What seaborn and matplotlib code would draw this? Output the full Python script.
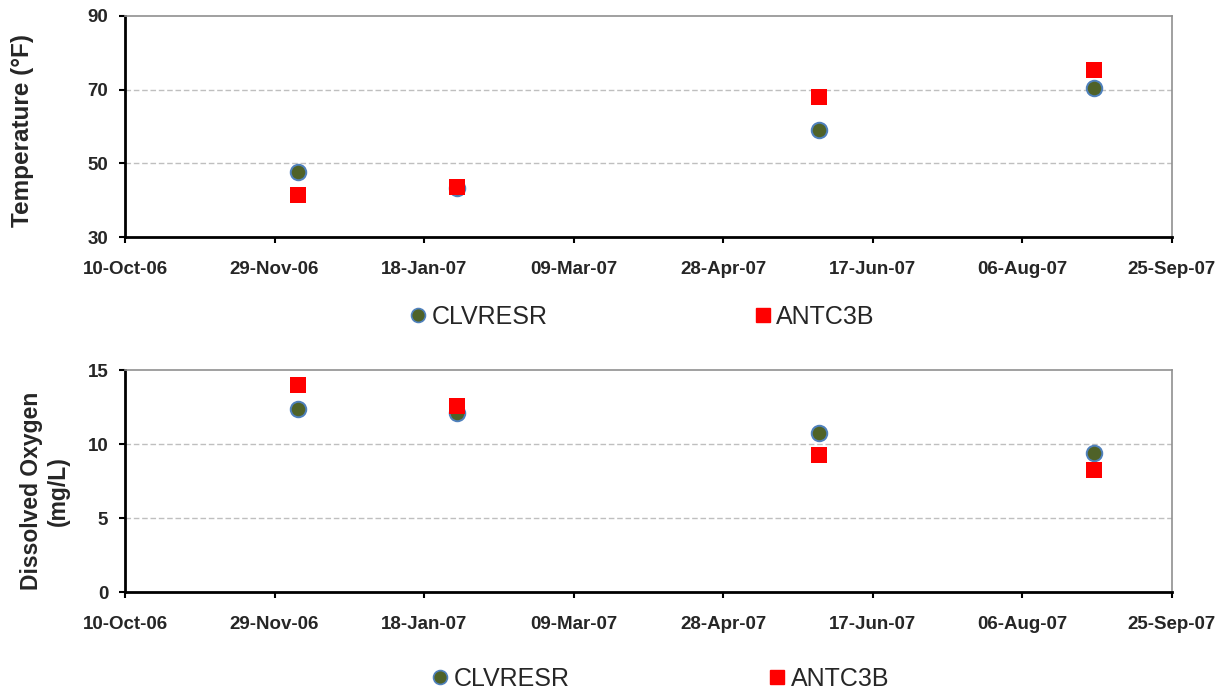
import matplotlib
matplotlib.use("Agg")
import matplotlib.pyplot as plt
import matplotlib.dates as mdates
from matplotlib.lines import Line2D
import seaborn as sns
import pandas as pd

# ---- data ----
dates = ["2006-12-07", "2007-01-29", "2007-05-30", "2007-08-30"]
temp_clvresr = [47.6, 43.3, 59.1, 70.5]
temp_antc3b = [41.4, 43.6, 68.0, 75.4]
do_clvresr = [12.35, 12.1, 10.75, 9.37]
do_antc3b = [14.0, 12.6, 9.27, 8.22]
series_names = ["CLVRESR", "ANTC3B"]
tick_dates = ["2006-10-10", "2006-11-29", "2007-01-18", "2007-03-09",
              "2007-04-28", "2007-06-17", "2007-08-06", "2007-09-25"]
temp_ticks = [30, 50, 70, 90]
do_ticks = [0, 5, 10, 15]

sns.set_theme(style="white")
plt.rcParams["font.family"] = ["Liberation Sans", "DejaVu Sans"]

fig = plt.figure(figsize=(12.25, 6.92), dpi=100)
ax1 = fig.add_axes([0.102, 0.6575, 0.8547, 0.3194])
ax2 = fig.add_axes([0.102, 0.1445, 0.8547, 0.3208])

x = pd.to_datetime(dates)
xt = pd.to_datetime(tick_dates)

circ_face = "#4F6228"
circ_edge = "#4F81BD"
sq_face = "#FF0000"

def panel(ax, yc, ys, ticks, ylabel, lsize, lx, ly):
    df_c = pd.DataFrame({"date": x, "val": yc})
    df_s = pd.DataFrame({"date": x, "val": ys})
    sns.scatterplot(data=df_c, x="date", y="val", ax=ax, marker="o", s=125,
                    color=circ_face, edgecolor=circ_edge, linewidth=1.4, zorder=3)
    sns.scatterplot(data=df_s, x="date", y="val", ax=ax, marker="s", s=120,
                    color=sq_face, edgecolor=sq_face, linewidth=0, zorder=4)
    ax.set_xlim(xt[0], xt[-1])
    ax.set_ylim(ticks[0], ticks[-1])
    ax.set_xticks(xt)
    ax.xaxis.set_major_formatter(mdates.DateFormatter("%d-%b-%y"))
    ax.set_yticks(ticks)
    ax.set_xlabel("")
    ax.set_ylabel(ylabel, fontsize=lsize, fontweight="bold")
    ax.yaxis.set_label_coords(lx, ly)
    for yv in ticks[1:-1]:
        ax.axhline(yv, color="#BFBFBF", linestyle=(0, (4, 2)), linewidth=1.0, zorder=1)
    for side in ["left", "bottom"]:
        ax.spines[side].set_color("black")
        ax.spines[side].set_linewidth(2)
    for side in ["top", "right"]:
        ax.spines[side].set_visible(True)
        ax.spines[side].set_color("#909090")
        ax.spines[side].set_linewidth(1.2)
    ax.tick_params(axis="both", which="major", direction="out", length=4.5, width=1.5,
                   color="black", labelsize=13.5, bottom=True, left=True)
    ax.tick_params(axis="y", pad=7.5)
    ax.tick_params(axis="x", pad=13)
    for lab in ax.get_xticklabels() + ax.get_yticklabels():
        lab.set_fontweight("bold")
    if ax.get_legend():
        ax.get_legend().remove()

panel(ax1, temp_clvresr, temp_antc3b, temp_ticks, "Temperature (°F)", 17.5, -0.087, 0.484)
panel(ax2, do_clvresr, do_antc3b, do_ticks, "Dissolved Oxygen\n(mg/L)", 16.5, -0.0525, 0.455)

handles = [
    Line2D([], [], linestyle="none", marker="o", markersize=10,
           markerfacecolor=circ_face, markeredgecolor=circ_edge, markeredgewidth=1.2),
    Line2D([], [], linestyle="none", marker="s", markersize=10.5,
           markerfacecolor=sq_face, markeredgecolor=sq_face),
]
for yy, xx, cs in [(0.5426, 0.5245, 8.3), (0.0195, 0.5396, 8.0)]:
    fig.legend(handles, series_names, loc="center", bbox_to_anchor=(xx, yy), ncol=2,
               frameon=False, fontsize=18, handlelength=0.6, handletextpad=0.25,
               columnspacing=cs, borderpad=0)

fig.savefig("out.png", dpi=100)
